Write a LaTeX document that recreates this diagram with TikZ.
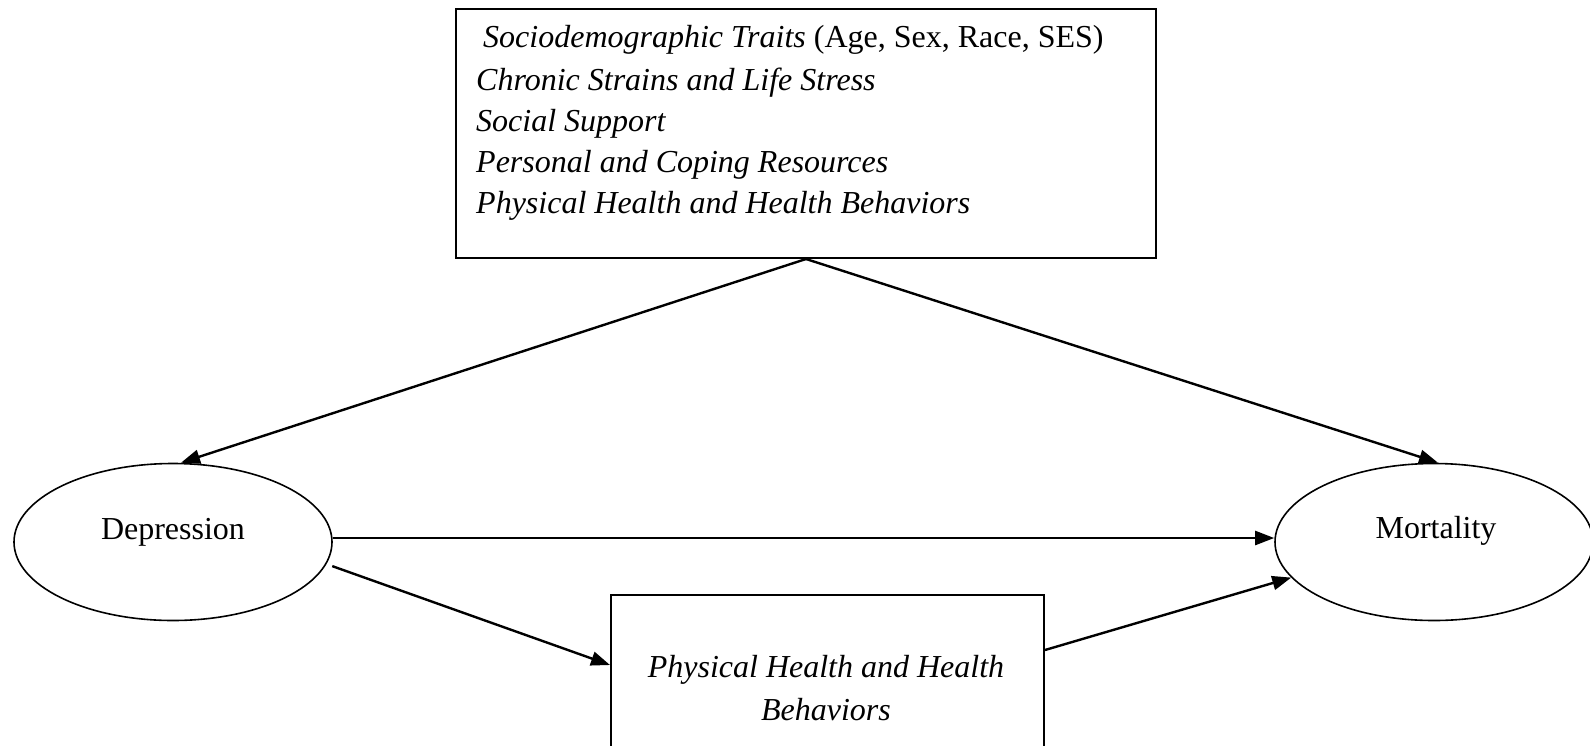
\documentclass[tikz,border=0pt]{standalone}
\usepackage{fontspec}
\setmainfont{Liberation Serif}
\usetikzlibrary{arrows.meta,shapes.geometric}
\begin{document}
\begin{tikzpicture}[x=1pt,y=-1pt,
  txt/.style={font=\fontsize{32}{42}\selectfont, inner sep=0pt},
  boxed/.style={draw, line width=2pt, inner sep=0pt},
  oval/.style={draw, ellipse, line width=1.6pt, inner sep=0pt, minimum width=318pt, minimum height=157pt},
  arr/.style={line width=2.4pt, -{Triangle[length=19pt,width=14pt]}}]
\useasboundingbox (0,0) rectangle (1590,745);
% top box
\node[boxed, anchor=north west, minimum width=700pt, minimum height=249pt] (top) at (455,8) {};
\node[txt, anchor=base west] (l1) at (483,47) {\textit{Sociodemographic Traits} (Age, Sex, Race, SES)};
\node[txt, anchor=base west] (l2) at (476,90) {\textit{Chronic Strains and Life Stress}};
\node[txt, anchor=base west] (l3) at (476,131) {\textit{Social Support}};
\node[txt, anchor=base west] (l4) at (476,172) {\textit{Personal and Coping Resources}};
\node[txt, anchor=base west] (l5) at (476,213) {\textit{Physical Health and Health Behaviors}};
% ellipses
\node[oval] (dep) at (173,542) {};
\node[txt] (deptxt) at (173,532) {Depression};
\node[oval] (mort) at (1434,542) {};
\node[txt] (morttxt) at (1436,531) {Mortality};
% bottom box
\node[boxed, anchor=north west, minimum width=433pt, minimum height=200pt] (pb) at (610,594) {};
\node[txt, align=center, font=\fontsize{32}{43}\selectfont\itshape] (pbt) at (826,688) {Physical Health and Health\\Behaviors};
% connectors
\draw[arr] (top.south) -- ([xshift=8pt]dep.north);
\draw[arr] (top.south) -- ([xshift=4pt]mort.north);
\draw[arr] ([yshift=4pt]dep.east) -- ([yshift=4pt]mort.west);
\draw[arr] ([xshift=7pt]dep.-9) -- ([yshift=-71pt]pb.north west);
\draw[arr] ([yshift=-56pt]pb.north east) -- (mort.194);
\end{tikzpicture}
\end{document}
